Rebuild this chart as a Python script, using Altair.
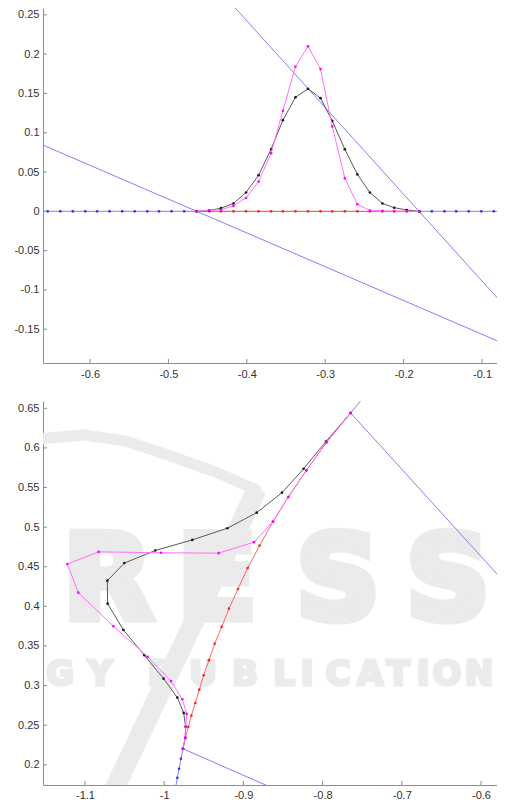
import altair as alt
import pandas as pd

# ---------------- top panel data ----------------
top_blue_left_x = [-0.670, -0.654, -0.638, -0.622, -0.606, -0.591, -0.575, -0.559,
                   -0.543, -0.527, -0.512, -0.496, -0.480, -0.464]
top_blue_left_y = [0, 0, 0, 0, 0, 0, 0, 0, 0, 0, 0, 0, 0, 0]
top_blue_right_x = [-0.180, -0.164, -0.148, -0.133, -0.117, -0.101, -0.085, -0.069]
top_blue_right_y = [0, 0, 0, 0, 0, 0, 0, 0]
top_mid_x = [-0.464, -0.448, -0.433, -0.417, -0.401, -0.385, -0.369, -0.354, -0.338,
             -0.322, -0.306, -0.291, -0.275, -0.259, -0.243, -0.227, -0.212, -0.196, -0.180]
top_red_y = [0, 0, 0, 0, 0, 0, 0, 0, 0, 0, 0, 0, 0, 0, 0, 0, 0, 0, 0]
top_black_y = [0, 0.001, 0.004, 0.010, 0.024, 0.046, 0.079, 0.116, 0.145, 0.156,
               0.144, 0.115, 0.079, 0.047, 0.024, 0.010, 0.0046, 0.0017, 0]
top_magenta_y = [0, 0.0013, 0.002, 0.007, 0.017, 0.038, 0.074, 0.128, 0.184, 0.210,
                 0.181, 0.108, 0.042, 0.009, 0.001, 0.0005, 0.0003, 0.0001, 0]
top_tan1_x = [-0.670, -0.060]
top_tan1_y = [0.0886, -0.1737]
top_tan2_x = [-0.450, -0.060]
top_tan2_y = [0.2975, -0.1328]
top_xticks = [-0.6, -0.5, -0.4, -0.3, -0.2, -0.1]
top_yticks = [-0.15, -0.1, -0.05, 0, 0.05, 0.1, 0.15, 0.2, 0.25]

# ---------------- bottom panel data ----------------
bot_black_x = [-0.7646, -0.7957, -0.8239, -0.8513, -0.8832, -0.9203, -0.9645, -1.0112,
               -1.0503, -1.0718, -1.0714, -1.0516, -1.0251, -1.0007, -0.9834, -0.9754,
               -0.9729, -0.9733, -0.9763]
bot_black_y = [0.6441, 0.6081, 0.5737, 0.5435, 0.5183, 0.4986, 0.4839, 0.4705, 0.4546,
               0.4324, 0.4034, 0.3703, 0.3384, 0.3087, 0.2848, 0.2655, 0.2483, 0.2340, 0.2202]
bot_magenta_x = [-0.7646, -0.7949, -0.8205, -0.8433, -0.8626, -0.8866, -0.9312, -1.0040,
                 -1.0827, -1.1223, -1.1084, -1.0642, -1.0209, -0.9914, -0.9771, -0.9716,
                 -0.9729, -0.9737, -0.9763]
bot_magenta_y = [0.6441, 0.6072, 0.5716, 0.5380, 0.5070, 0.4810, 0.4672, 0.4676, 0.4688,
                 0.4533, 0.4173, 0.3749, 0.3363, 0.3057, 0.2827, 0.2642, 0.2478, 0.2340, 0.2202]
bot_red_x = [-0.7646, -0.7949, -0.8205, -0.8433, -0.8626, -0.8795, -0.8946, -0.9068,
             -0.9182, -0.9274, -0.9363, -0.9434, -0.9502, -0.9556, -0.9607, -0.9657,
             -0.9695, -0.9733, -0.9763]
bot_red_y = [0.6441, 0.6072, 0.5716, 0.5380, 0.5070, 0.4768, 0.4483, 0.4219, 0.3971,
             0.3741, 0.3527, 0.3321, 0.3129, 0.2948, 0.2780, 0.2621, 0.2479, 0.2340, 0.2202]
bot_blue_x = [-0.9763, -0.9788, -0.9813, -0.9834, -0.9855, -0.9876]
bot_blue_y = [0.2202, 0.2076, 0.1950, 0.1837, 0.1720, 0.1600]
bot_tan_low_x = [-0.9763, -0.850]
bot_tan_low_y = [0.2202, 0.1649]
bot_tan_up_x = [-0.7646, -0.745]
bot_tan_up_y = [0.6441, 0.6678]
bot_tan_right_x = [-0.7646, -0.560]
bot_tan_right_y = [0.6441, 0.4190]
bot_xticks = [-1.1, -1, -0.9, -0.8, -0.7, -0.6]
bot_yticks = [0.2, 0.25, 0.3, 0.35, 0.4, 0.45, 0.5, 0.55, 0.6, 0.65]

# faint publisher watermark (in bottom-panel data units)
wm_big_letters = ["R", "E", "S", "S"]
wm_big_x = [-1.0709, -0.9333, -0.7805, -0.6417]
wm_big_y = [0.3849, 0.3849, 0.3849, 0.3849]
wm_small_letters = ["G", "Y", "P", "U", "B", "L", "I", "C", "A", "T", "I", "O", "N"]
wm_small_x = [-1.1315, -1.0810, -1.0053, -0.9510, -0.8980, -0.8487, -0.8197,
              -0.7805, -0.7401, -0.7048, -0.6732, -0.6429, -0.6025]
wm_small_y = [0.3006, 0.3006, 0.3006, 0.3006, 0.3006, 0.3006, 0.3006,
              0.3006, 0.3006, 0.3006, 0.3006, 0.3006, 0.3006]
wm_swoosh_x = [-1.2136, -1.1568, -1.1025, -1.0495, -0.9964, -0.9358, -0.8841]
wm_swoosh_y = [0.5988, 0.6114, 0.6164, 0.6089, 0.5913, 0.5699, 0.5472]
wm_slash_x = [-0.8828, -1.0722]
wm_slash_y = [0.5485, 0.1499]

AXIS_COLOR = "#8c8c8c"
LABEL_COLOR = "#333333"
FONT = "Liberation Sans"


def make_panel(xdom, ydom, xticks, yticks, width, height, series, watermark=None,
               xextent=20, xpad=5):
    xs = alt.Scale(domain=xdom, nice=False, zero=False)
    ys = alt.Scale(domain=ydom, nice=False, zero=False)
    xaxis = alt.Axis(values=xticks, labelExpr="'' + datum.value", ticks=False, grid=False,
                     domainColor=AXIS_COLOR, domainWidth=1, labelColor=LABEL_COLOR,
                     labelFont=FONT, labelFontSize=11, labelPadding=xpad, labelFlush=False,
                     minExtent=xextent, maxExtent=xextent, title=None)
    yaxis = alt.Axis(values=yticks, labelExpr="'' + datum.value", ticks=False, grid=False,
                     domainColor=AXIS_COLOR, domainWidth=1, labelColor=LABEL_COLOR,
                     labelFont=FONT, labelFontSize=11, labelPadding=4, labelFlush=False,
                     minExtent=35, maxExtent=35, title=None)
    layers = []
    if watermark is not None:
        layers.extend(watermark(xs, ys, xaxis, yaxis))
    for xv, yv, lc, lw, dc in series:
        df = pd.DataFrame({"x": xv, "y": yv, "i": list(range(len(xv)))})
        enc = dict(x=alt.X("x:Q", scale=xs, axis=xaxis),
                   y=alt.Y("y:Q", scale=ys, axis=yaxis),
                   order=alt.Order("i:Q"))
        layers.append(alt.Chart(df).mark_line(color=lc, strokeWidth=lw, clip=True).encode(**enc))
        if dc is not None:
            layers.append(alt.Chart(df).mark_circle(color=dc, size=7, opacity=1,
                                                    clip=True).encode(
                x=alt.X("x:Q", scale=xs, axis=xaxis), y=alt.Y("y:Q", scale=ys, axis=yaxis)))
    # inward tick marks
    tx = pd.DataFrame({"v": xticks})
    ty = pd.DataFrame({"v": yticks})
    layers.append(alt.Chart(tx).mark_rule(color=AXIS_COLOR, strokeWidth=1).encode(
        x=alt.X("v:Q", scale=xs, axis=xaxis), y=alt.value(height), y2=alt.value(height - 4)))
    layers.append(alt.Chart(ty).mark_rule(color=AXIS_COLOR, strokeWidth=1).encode(
        y=alt.Y("v:Q", scale=ys, axis=yaxis), x=alt.value(0), x2=alt.value(4)))
    return alt.layer(*layers).properties(width=width, height=height)


BLUE_L, BLUE_D = "#8080ff", "#2f2fff"
RED_L, RED_D = "#ff6666", "#ff2020"
MAG_L, MAG_D = "#ff70ff", "#ff00ff"
BLK_L, BLK_D = "#5a5a5a", "#1a1a1a"

top_series = [
    (top_tan1_x, top_tan1_y, BLUE_L, 1, None),
    (top_tan2_x, top_tan2_y, BLUE_L, 1, None),
    (top_blue_left_x, top_blue_left_y, BLUE_L, 1, BLUE_D),
    (top_blue_right_x, top_blue_right_y, BLUE_L, 1, BLUE_D),
    (top_mid_x, top_red_y, RED_L, 1.2, RED_D),
    (top_mid_x, top_black_y, BLK_L, 1, BLK_D),
    (top_mid_x, top_magenta_y, MAG_L, 1, MAG_D),
]

bot_series = [
    (bot_tan_low_x, bot_tan_low_y, BLUE_L, 1, None),
    (bot_tan_up_x, bot_tan_up_y, BLUE_L, 1, None),
    (bot_tan_right_x, bot_tan_right_y, BLUE_L, 1, None),
    (bot_blue_x, bot_blue_y, BLUE_L, 1, BLUE_D),
    (bot_red_x, bot_red_y, RED_L, 1, RED_D),
    (bot_black_x, bot_black_y, BLK_L, 1, BLK_D),
    (bot_magenta_x, bot_magenta_y, MAG_L, 1, MAG_D),
]

WM = "#ebebeb"


def watermark(xs, ys, xaxis, yaxis):
    out = []
    sw = pd.DataFrame({"x": wm_swoosh_x, "y": wm_swoosh_y, "i": list(range(len(wm_swoosh_x)))})
    out.append(alt.Chart(sw).mark_line(color=WM, strokeWidth=11, clip=True,
                                       strokeCap="round").encode(
        x=alt.X("x:Q", scale=xs, axis=xaxis), y=alt.Y("y:Q", scale=ys, axis=yaxis),
        order=alt.Order("i:Q")))
    sl = pd.DataFrame({"x": wm_slash_x, "y": wm_slash_y, "i": [0, 1]})
    out.append(alt.Chart(sl).mark_line(color=WM, strokeWidth=20, clip=True).encode(
        x=alt.X("x:Q", scale=xs, axis=xaxis), y=alt.Y("y:Q", scale=ys, axis=yaxis),
        order=alt.Order("i:Q")))
    big = pd.DataFrame({"t": wm_big_letters, "x": wm_big_x, "y": wm_big_y})
    out.append(alt.Chart(big).mark_text(font="DejaVu Sans", fontWeight="bold", fontSize=116,
                                        color=WM, stroke=WM, strokeWidth=9,
                                        baseline="alphabetic", align="center",
                                        clip=True).encode(
        x=alt.X("x:Q", scale=xs, axis=xaxis), y=alt.Y("y:Q", scale=ys, axis=yaxis),
        text="t:N"))
    small = pd.DataFrame({"t": wm_small_letters, "x": wm_small_x, "y": wm_small_y})
    out.append(alt.Chart(small).mark_text(font="DejaVu Sans", fontWeight="bold", fontSize=34,
                                          color=WM, stroke=WM, strokeWidth=3,
                                          baseline="alphabetic", align="center",
                                          clip=True).encode(
        x=alt.X("x:Q", scale=xs, axis=xaxis), y=alt.Y("y:Q", scale=ys, axis=yaxis),
        text="t:N"))
    return out


# plot areas run from x=43 to x=497 on the page (the page body is 489 px wide)
top = make_panel([-0.66, -0.0809], [-0.193, 0.2587], top_xticks, top_yticks, 454, 355,
                 top_series)
bottom = make_panel([-1.153, -0.5798], [0.1745, 0.6592], bot_xticks, bot_yticks, 454, 384,
                    bot_series, watermark=watermark, xextent=16, xpad=4)

chart = alt.vconcat(top, bottom, spacing=18).properties(padding=0).configure_view(stroke=None)

chart.save("out.html", embed_options={"renderer": "svg", "actions": False})
